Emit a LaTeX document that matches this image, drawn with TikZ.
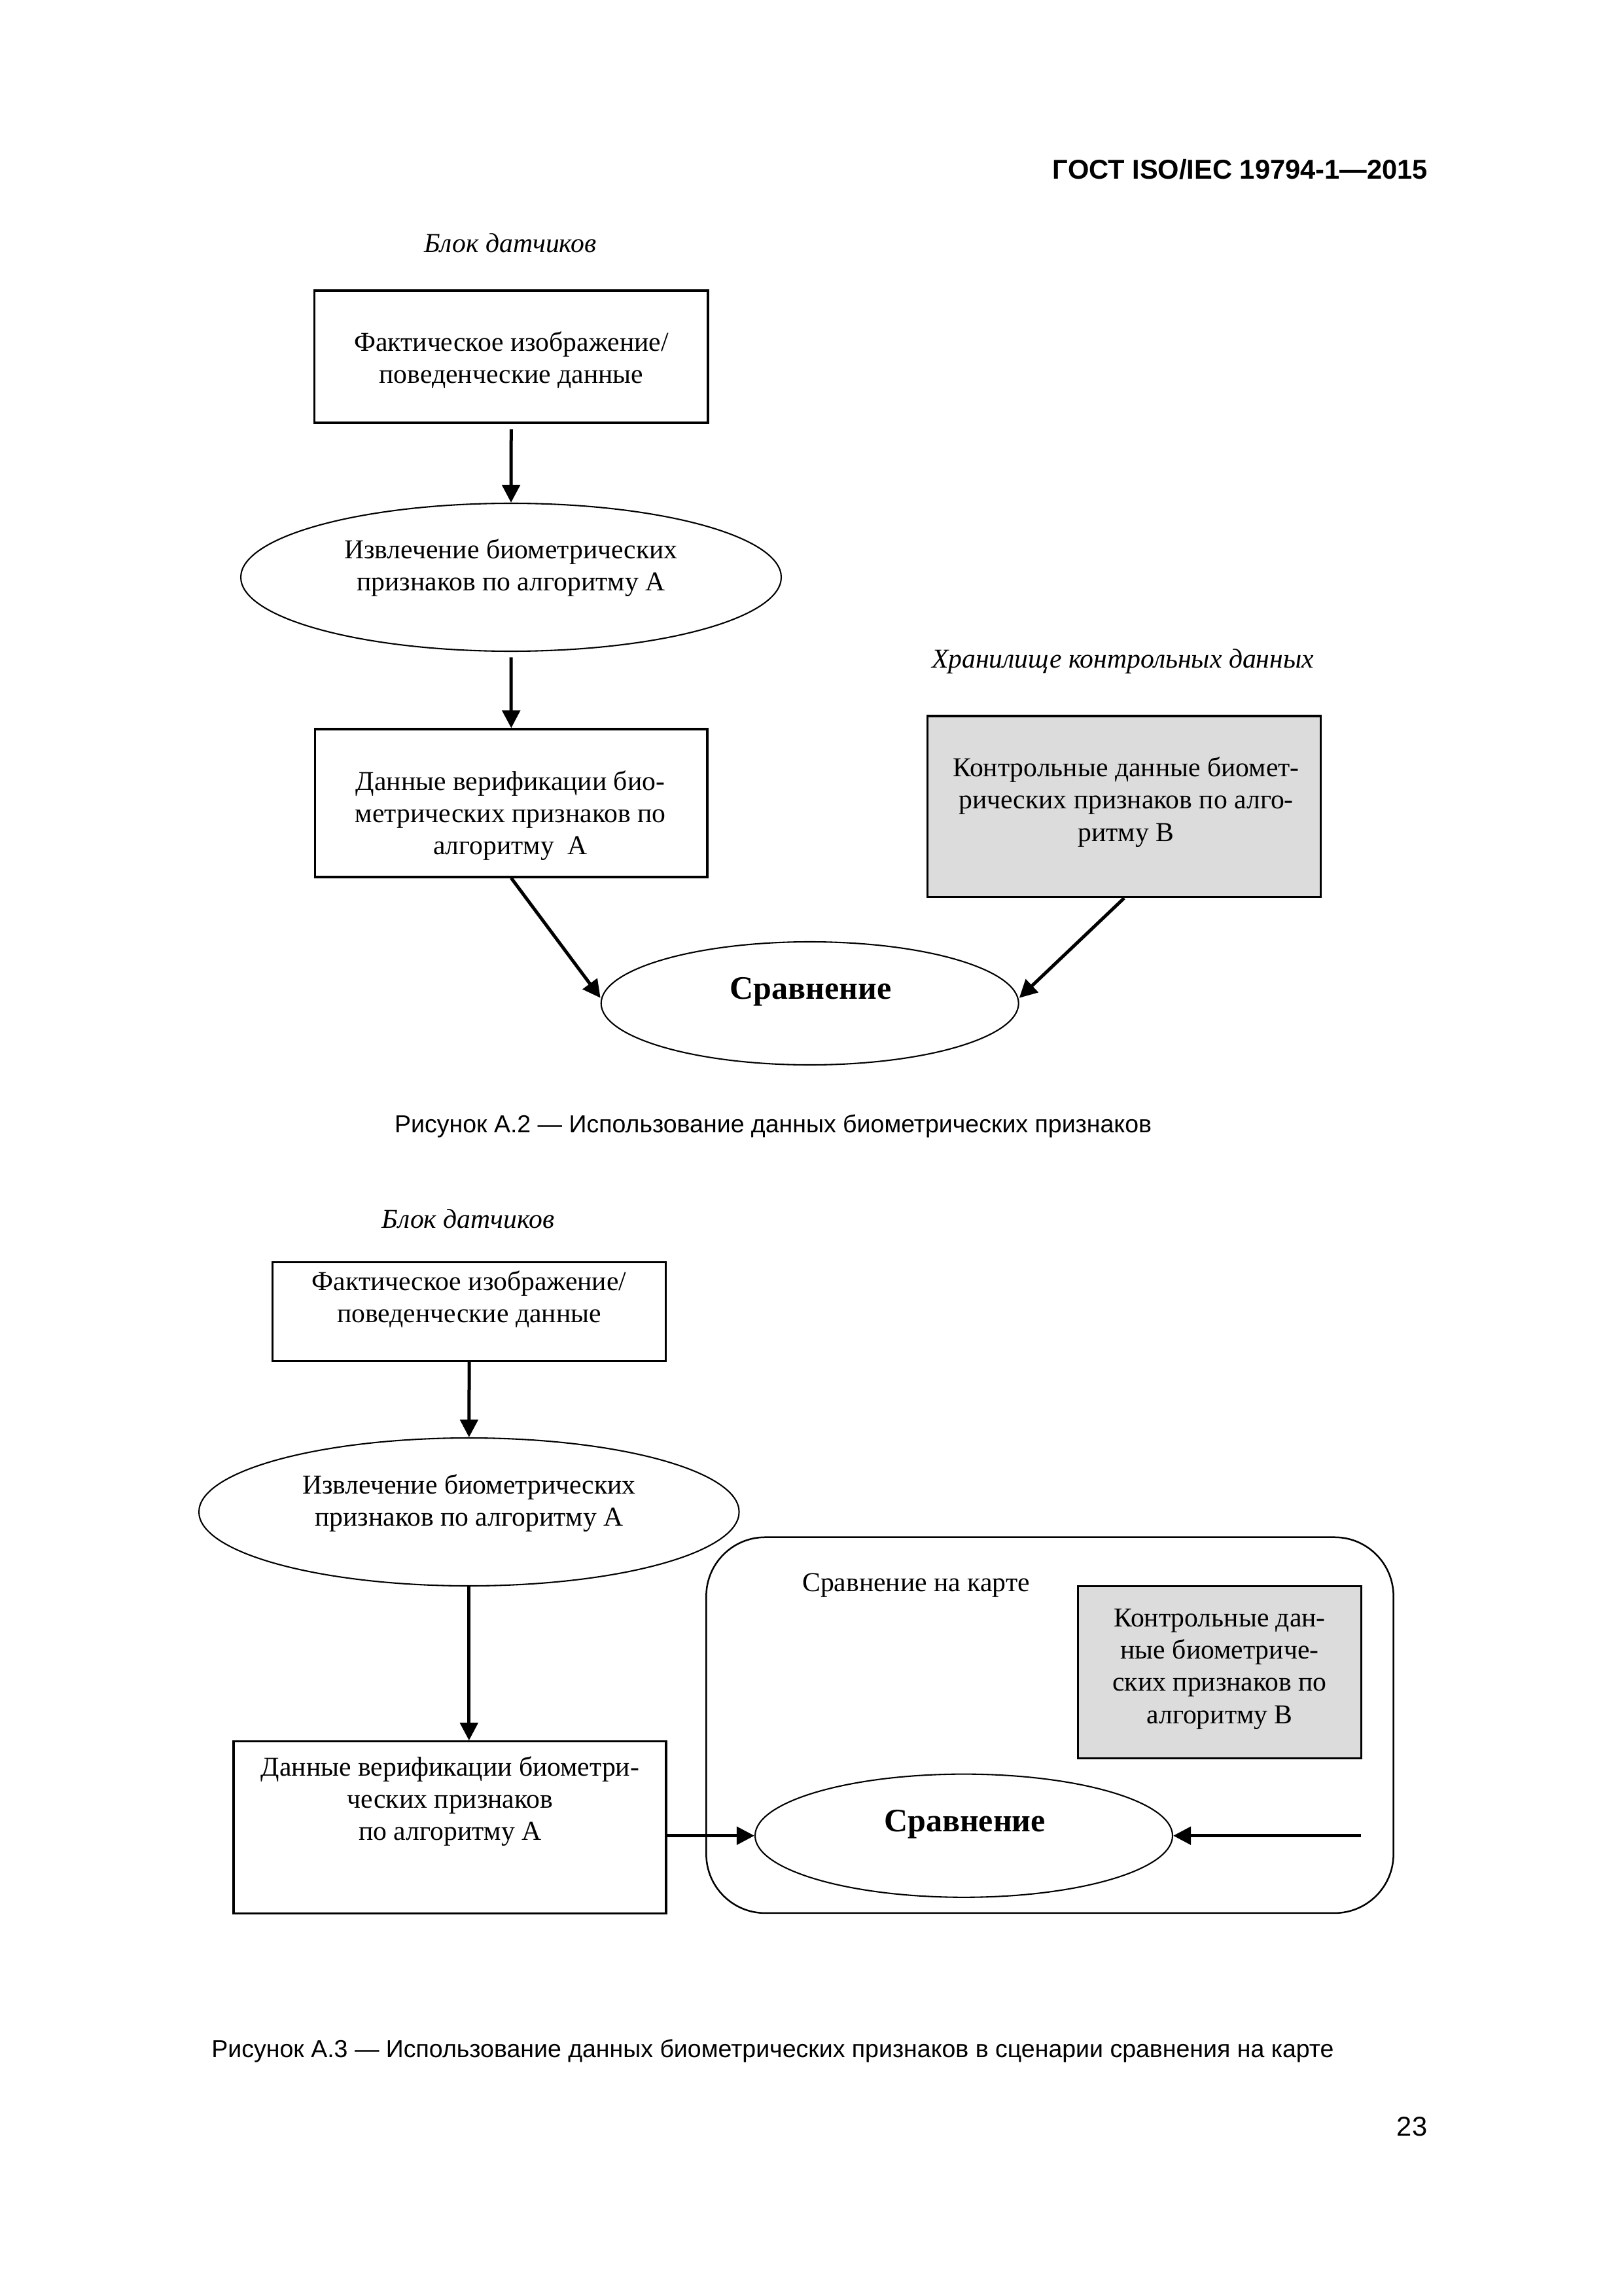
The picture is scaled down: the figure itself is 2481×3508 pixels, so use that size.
\documentclass[tikz,border=0pt]{standalone}
\usepackage{fontspec}
\setmainfont{Liberation Serif}
\newfontfamily\arialfont{Liberation Sans}
\usetikzlibrary{shapes.geometric,arrows.meta}
\definecolor{boxgray}{RGB}{220,220,220}
\newcommand\mlines[1]{\begin{tabular}[t]{@{}c@{}}#1\end{tabular}}
\begin{document}
\begin{tikzpicture}[x=0.24pt,y=-0.24pt,
  box/.style={draw, line width=0.75pt, inner sep=0pt},
  oval/.style={draw, ellipse, line width=0.5pt, inner sep=0pt},
  card/.style={draw, line width=0.6pt, rounded corners=21.6pt, inner sep=0pt},
  txt/.style={inner sep=0pt, anchor=base, font=\fontsize{10}{11.8}\selectfont},
  boldtxt/.style={inner sep=0pt, anchor=base, font=\fontsize{12}{14}\selectfont\bfseries},
  captxt/.style={inner sep=0pt, anchor=base, font=\arialfont\fontsize{9}{11}\selectfont},
  arr/.style={line width=1.2pt, -{Triangle[length=6.5pt,width=6.5pt]}}]
\useasboundingbox (0,0) rectangle (2481,3508);

% header and page number
\node[inner sep=0pt, anchor=base east, font=\arialfont\fontsize{10}{12}\selectfont\bfseries] (hdr) at (2183,274) {ГОСТ ISO/IEC 19794-1—2015};
\node[inner sep=0pt, anchor=base east, font=\arialfont\fontsize{10}{12}\selectfont] (pg) at (2182,3263) {23};

% ---------- Figure A.2 ----------
\node[txt] (lab1) at (780,386) {\itshape Блок датчиков};
\node[box, minimum width=144.36pt, minimum height=48.48pt] (b1) at (781.3,545) {};
\node[txt] (t1) at (781.5,536.5) {\mlines{Фактическое изображение/\\поведенческие данные}};

\node[oval, minimum width=198.24pt, minimum height=54.24pt] (e1) at (781,882) {};
\node[txt] (te1) at (781,853.5) {\mlines{Извлечение биометрических\\признаков по алгоритму А}};

\node[box, minimum width=143.86pt, minimum height=54.24pt] (b3) at (781.3,1227) {};
\node[txt] (t3) at (780,1207) {\mlines{Данные верификации био-\\метрических признаков по\\алгоритму\ \ А}};

\node[txt] (lab2) at (1716,1020) {\itshape Хранилище контрольных данных};
\node[box, fill=boxgray, minimum width=144.12pt, minimum height=66.41pt] (bB) at (1718,1232.3) {};
\node[txt] (tB) at (1721,1186.7) {\mlines{Контрольные данные биомет-\\рических признаков по алго-\\ритму В}};

\node[oval, minimum width=153.12pt, minimum height=45.12pt] (e2) at (1237.7,1533) {};
\node[boldtxt] (te2) at (1239,1526.7) {Сравнение};

\draw[arr, shorten <=2pt] (b1.south) -- (e1.north);
\draw[arr, shorten <=2pt] (e1.south) -- (b3.north);
\draw[arr] (b3.south) -- ([yshift=2pt]e2.west);
\draw[arr] (bB.south) -- ([yshift=2pt]e2.east);

\node[captxt] (cap1) at (1181.6,1730) {Рисунок А.2 — Использование данных биометрических признаков};

% ---------- Figure A.3 ----------
\node[txt] (lab3) at (715.6,1876) {\itshape Блок датчиков};
\node[box, minimum width=144.24pt, minimum height=36.12pt] (b4) at (717.1,2003.9) {};
\node[txt] (t4) at (717,1971.3) {\mlines{Фактическое изображение/\\поведенческие данные}};

\node[oval, minimum width=198.14pt, minimum height=54.24pt] (e3) at (716.8,2310) {};
\node[txt] (te3) at (717,2282) {\mlines{Извлечение биометрических\\признаков по алгоритму А}};

\node[box, minimum width=158.64pt, minimum height=63.02pt] (b5) at (687.5,2792) {};
\node[txt] (t5) at (688,2713) {\mlines{Данные верификации биометри-\\ческих признаков\\по алгоритму А}};

\node[card, minimum width=252.07pt, minimum height=137.81pt] (cd) at (1604.5,2635.8) {};
\node[txt] (cdlab) at (1400,2431.6) {Сравнение на карте};

\node[box, fill=boxgray, minimum width=103.85pt, minimum height=63.17pt] (g2) at (1864,2554.9) {};
\node[txt] (tg2) at (1864,2485.5) {\mlines{Контрольные дан-\\ные биометриче-\\ских признаков по\\алгоритму В}};

\node[oval, minimum width=153.12pt, minimum height=45.17pt] (e4) at (1473,2804.7) {};
\node[boldtxt] (te4) at (1474.6,2798.5) {Сравнение};

\coordinate (c1) at (2080.4,2804.7);
\draw[arr] (b4.south) -- (e3.north);
\draw[arr] (e3.south) -- (e3.south |- b5.north);
\draw[arr] (b5.east |- e4.west) -- (e4.west);
\draw[arr] (c1) -- (e4.east);

\node[captxt] (cap2) at (1181,3143.3) {Рисунок А.3 — Использование данных биометрических признаков в сценарии сравнения на карте};
\end{tikzpicture}
\end{document}
